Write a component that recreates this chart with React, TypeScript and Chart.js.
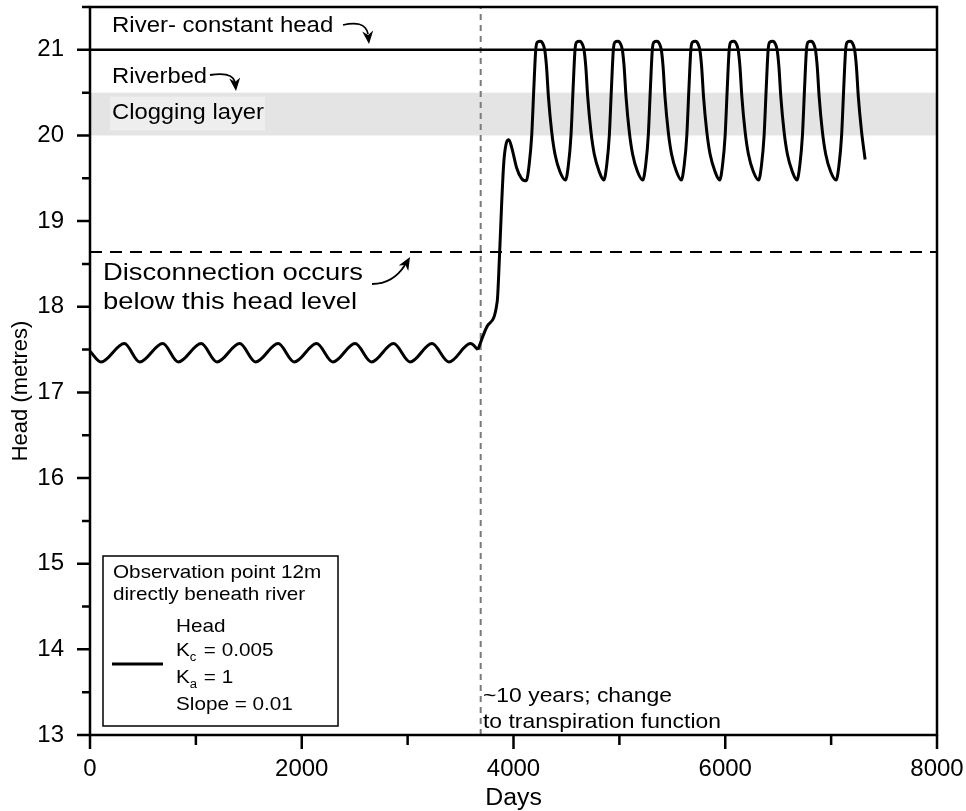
import React, { useEffect, useRef } from "react";
import { Chart, registerables } from "chart.js";
Chart.register(...registerables);

// ---------- data ----------
const DAYS_PRE = [0, 104, 324, 469, 687, 834, 1050, 1199, 1414, 1564, 1777, 1929, 2140, 2294, 2504, 2659, 2867, 3024, 3230, 3390, 3594, 3664];
const HEAD_PRE = [17.48, 17.355, 17.57, 17.355, 17.57, 17.355, 17.57, 17.355, 17.57, 17.355, 17.57, 17.355, 17.57, 17.355, 17.57, 17.355, 17.57, 17.355, 17.57, 17.355, 17.57, 17.5];

const DAYS_POST = [
  3664, 3755, 3846, 3868, 3888, 3908, 3930, 3956, 3985, 4030, 4075,
  4120, 4148, 4172, 4192, 4210, 4226, 4253, 4278, 4295, 4312, 4330, 4360, 4392, 4438,
  4491, 4519, 4543, 4563, 4581, 4597, 4624, 4649, 4666, 4683, 4701, 4731, 4763, 4809,
  4853, 4881, 4905, 4925, 4943, 4959, 4986, 5011, 5028, 5045, 5063, 5093, 5125, 5171,
  5221, 5249, 5273, 5293, 5311, 5327, 5354, 5379, 5396, 5413, 5431, 5461, 5493, 5539,
  5585, 5613, 5637, 5657, 5675, 5691, 5718, 5743, 5760, 5777, 5795, 5825, 5857, 5903,
  5947, 5975, 5999, 6019, 6037, 6053, 6080, 6105, 6122, 6139, 6157, 6187, 6219, 6265,
  6315, 6343, 6367, 6387, 6405, 6421, 6448, 6473, 6490, 6507, 6525, 6555, 6587, 6633,
  6677, 6705, 6729, 6749, 6767, 6783, 6810, 6835, 6852, 6869, 6887, 6917, 6949, 6995,
  7047, 7075, 7099, 7119, 7137, 7153, 7180, 7205, 7222, 7239, 7257, 7287, 7321,
];
const HEAD_POST = [
  17.5, 17.78, 18.06, 18.6, 19.2, 19.68, 19.9, 19.95, 19.85, 19.62, 19.5,
  19.47, 19.66, 20.0, 20.55, 21.0, 21.09, 21.1, 21.07, 21.0, 20.8, 20.45, 20.05, 19.78, 19.58,
  19.48, 19.66, 20.0, 20.55, 21.0, 21.09, 21.1, 21.07, 21.0, 20.8, 20.45, 20.05, 19.78, 19.58,
  19.48, 19.66, 20.0, 20.55, 21.0, 21.09, 21.1, 21.07, 21.0, 20.8, 20.45, 20.05, 19.78, 19.58,
  19.48, 19.66, 20.0, 20.55, 21.0, 21.09, 21.1, 21.07, 21.0, 20.8, 20.45, 20.05, 19.78, 19.58,
  19.48, 19.66, 20.0, 20.55, 21.0, 21.09, 21.1, 21.07, 21.0, 20.8, 20.45, 20.05, 19.78, 19.58,
  19.48, 19.66, 20.0, 20.55, 21.0, 21.09, 21.1, 21.07, 21.0, 20.8, 20.45, 20.05, 19.78, 19.58,
  19.48, 19.66, 20.0, 20.55, 21.0, 21.09, 21.1, 21.07, 21.0, 20.8, 20.45, 20.05, 19.78, 19.58,
  19.48, 19.66, 20.0, 20.55, 21.0, 21.09, 21.1, 21.07, 21.0, 20.8, 20.45, 20.05, 19.78, 19.58,
  19.48, 19.66, 20.0, 20.55, 21.0, 21.09, 21.1, 21.07, 21.0, 20.8, 20.45, 20.05, 19.72,
];

const RIVER_HEAD = 21;
const CLOG_BOTTOM = 20;
const CLOG_TOP = 20.5;
const DISCONNECT_HEAD = 18.64;
const CHANGE_DAY = 3690;

const X_MIN = 0;
const X_MAX = 8000;
const Y_MIN = 13;
const Y_MAX = 21.5;
const X_TICKS = [0, 2000, 4000, 6000, 8000];
const X_MINOR = [1000, 3000, 5000, 7000];
const Y_TICKS = [13, 14, 15, 16, 17, 18, 19, 20, 21];
const Y_MINOR = [13.5, 14.5, 15.5, 16.5, 17.5, 18.5, 19.5, 20.5, 21.5];

const FONT = '"Liberation Sans", Arial, Helvetica, sans-serif';

function txt(ctx: CanvasRenderingContext2D, s: string, x: number, y: number, size: number, sx = 1.08) {
  ctx.save();
  ctx.font = `${size}px ${FONT}`;
  ctx.fillStyle = "#000";
  ctx.textBaseline = "alphabetic";
  ctx.textAlign = "left";
  ctx.translate(x, y);
  ctx.scale(sx, 1);
  ctx.fillText(s, 0, 0);
  const w = ctx.measureText(s).width * sx;
  ctx.restore();
  return w;
}

function arrowHead(ctx: CanvasRenderingContext2D, tx: number, ty: number, angle: number, len = 13, half = 5.5) {
  ctx.save();
  ctx.translate(tx, ty);
  ctx.rotate(angle);
  ctx.beginPath();
  ctx.moveTo(0, 0);
  ctx.lineTo(-len, -half);
  ctx.lineTo(-len * 0.7, 0);
  ctx.lineTo(-len, half);
  ctx.closePath();
  ctx.fillStyle = "#000";
  ctx.fill();
  ctx.restore();
}

const overlay = {
  id: "overlay",
  beforeDatasetsDraw(chart: any) {
    const ctx: CanvasRenderingContext2D = chart.ctx;
    const { left, right } = chart.chartArea;
    const y = chart.scales.y;
    const yT = y.getPixelForValue(CLOG_TOP);
    const yB = y.getPixelForValue(CLOG_BOTTOM);
    ctx.save();
    ctx.fillStyle = "#e4e4e4";
    ctx.fillRect(left, yT, right - left, yB - yT);
    ctx.fillStyle = "#eeeeee";
    ctx.fillRect(110, yT + 4, 155, yB - yT - 9);
    ctx.restore();
  },
  afterDatasetsDraw(chart: any) {
    const ctx: CanvasRenderingContext2D = chart.ctx;
    const { left, right, top, bottom } = chart.chartArea;
    const xs = chart.scales.x;
    const ys = chart.scales.y;
    ctx.save();
    // frame
    ctx.strokeStyle = "#000";
    ctx.lineWidth = 2.5;
    ctx.strokeRect(left, top, right - left, bottom - top);
    // ticks
    ctx.lineWidth = 2.5;
    ctx.beginPath();
    Y_TICKS.forEach((v) => {
      const p = ys.getPixelForValue(v);
      ctx.moveTo(left, p);
      ctx.lineTo(left - 13, p);
    });
    Y_MINOR.forEach((v) => {
      const p = ys.getPixelForValue(v);
      ctx.moveTo(left, p);
      ctx.lineTo(left - 8, p);
    });
    X_TICKS.forEach((v) => {
      const p = xs.getPixelForValue(v);
      ctx.moveTo(p, bottom);
      ctx.lineTo(p, bottom + 14);
    });
    X_MINOR.forEach((v) => {
      const p = xs.getPixelForValue(v);
      ctx.moveTo(p, bottom);
      ctx.lineTo(p, bottom + 10);
    });
    ctx.stroke();

    // axis titles
    ctx.save();
    ctx.font = `22px ${FONT}`;
    ctx.fillStyle = "#000";
    ctx.textAlign = "center";
    ctx.textBaseline = "middle";
    ctx.translate(21, 391);
    ctx.rotate(-Math.PI / 2);
    ctx.fillText("Head (metres)", 0, 0);
    ctx.restore();
    ctx.save();
    ctx.font = `23px ${FONT}`;
    ctx.fillStyle = "#000";
    ctx.textAlign = "center";
    ctx.translate((left + right) / 2, 805);
    ctx.scale(1.08, 1);
    ctx.fillText("Days", 0, 0);
    ctx.restore();

    // annotations
    txt(ctx, "River- constant head", 112, 32, 22, 1.09);
    txt(ctx, "Riverbed", 112, 83, 22, 1.08);
    txt(ctx, "Clogging layer", 112, 119, 22, 1.08);
    txt(ctx, "Disconnection occurs", 103, 280, 24, 1.14);
    txt(ctx, "below this head level", 103, 309, 24, 1.14);
    txt(ctx, "~10 years; change", 483, 702, 21, 1.09);
    txt(ctx, "to transpiration function", 483, 728, 21, 1.09);

    ctx.strokeStyle = "#000";
    ctx.lineWidth = 1.8;
    // river arrow
    ctx.beginPath();
    ctx.moveTo(343, 25);
    ctx.bezierCurveTo(355, 22, 366, 23, 368, 34);
    ctx.stroke();
    arrowHead(ctx, 369, 44, Math.PI / 2 - 0.1);
    // riverbed arrow
    ctx.beginPath();
    ctx.moveTo(210, 75);
    ctx.bezierCurveTo(222, 73, 233, 74, 235, 82);
    ctx.stroke();
    arrowHead(ctx, 236, 91, Math.PI / 2 - 0.1);
    // disconnection arrow
    ctx.beginPath();
    ctx.moveTo(372, 284);
    ctx.bezierCurveTo(388, 284, 398, 276, 405, 265);
    ctx.stroke();
    arrowHead(ctx, 410, 257, -Math.PI / 3);

    // legend box
    ctx.lineWidth = 1.5;
    ctx.fillStyle = "#fff";
    ctx.fillRect(103, 556, 235, 170);
    ctx.strokeRect(103, 556, 235, 170);
    txt(ctx, "Observation point 12m", 113, 578, 19, 1.09);
    txt(ctx, "directly beneath river", 113, 600, 19, 1.09);
    txt(ctx, "Head", 176, 632, 19, 1.09);
    let w = txt(ctx, "K", 176, 656, 19, 1.09);
    txt(ctx, "c", 176 + w, 661, 12, 1.09);
    txt(ctx, "= 0.005", 176 + w + 14, 656, 19, 1.09);
    w = txt(ctx, "K", 176, 683, 19, 1.09);
    txt(ctx, "a", 176 + w, 688, 12, 1.09);
    txt(ctx, "= 1", 176 + w + 14, 683, 19, 1.09);
    txt(ctx, "Slope = 0.01", 176, 710, 19, 1.09);
    ctx.lineWidth = 3;
    ctx.beginPath();
    ctx.moveTo(112, 664);
    ctx.lineTo(163, 664);
    ctx.stroke();
    ctx.restore();
  },
};

function pts(xs: number[], ys: number[]) {
  return xs.map((x, i) => ({ x, y: ys[i] }));
}

export default function App() {
  const ref = useRef<HTMLCanvasElement | null>(null);
  useEffect(() => {
    if (!ref.current) return;
    const noPad = (s: any) => {
      s.paddingTop = 0;
      s.paddingBottom = 0;
      s.paddingLeft = 0;
      s.paddingRight = 0;
    };
    const chart = new Chart(ref.current, {
      type: "line",
      data: {
        datasets: [
          {
            data: pts(DAYS_PRE, HEAD_PRE),
            borderColor: "#000",
            borderWidth: 3,
            pointRadius: 0,
            cubicInterpolationMode: "monotone",
            fill: false,
          },
          {
            data: pts(DAYS_POST, HEAD_POST),
            borderColor: "#000",
            borderWidth: 3,
            pointRadius: 0,
            cubicInterpolationMode: "monotone",
            fill: false,
          },
          {
            data: [{ x: X_MIN, y: RIVER_HEAD }, { x: X_MAX, y: RIVER_HEAD }],
            borderColor: "#000",
            borderWidth: 2.5,
            pointRadius: 0,
          },
          {
            data: [{ x: X_MIN, y: DISCONNECT_HEAD }, { x: X_MAX, y: DISCONNECT_HEAD }],
            borderColor: "#000",
            borderWidth: 2,
            borderDash: [12, 8],
            pointRadius: 0,
          },
          {
            data: [{ x: CHANGE_DAY, y: Y_MIN }, { x: CHANGE_DAY, y: Y_MAX }],
            borderColor: "#7a7a7a",
            borderWidth: 2,
            borderDash: [6, 5],
            pointRadius: 0,
          },
        ] as any,
      },
      options: {
        animation: false,
        responsive: false,
        devicePixelRatio: 1,
        layout: { padding: { top: 7, right: 29, left: 0, bottom: 0 } },
        plugins: { legend: { display: false }, tooltip: { enabled: false } },
        scales: {
          x: {
            type: "linear",
            min: X_MIN,
            max: X_MAX,
            grid: { display: false, drawTicks: false },
            border: { display: false },
            ticks: {
              color: "#000",
              font: { size: 24, family: FONT },
              padding: 20,
              maxRotation: 0,
              callback: (v: any) => String(v),
            },
            afterBuildTicks: (s: any) => {
              s.ticks = X_TICKS.map((v) => ({ value: v }));
            },
            afterFit: (s: any) => {
              s.height = 76;
              noPad(s);
            },
          },
          y: {
            type: "linear",
            min: Y_MIN,
            max: Y_MAX,
            grid: { display: false, drawTicks: false },
            border: { display: false },
            ticks: {
              color: "#000",
              font: { size: 24, family: FONT },
              padding: 26,
              callback: (v: any) => String(v),
            },
            afterBuildTicks: (s: any) => {
              s.ticks = Y_TICKS.map((v) => ({ value: v }));
            },
            afterFit: (s: any) => {
              s.width = 90;
              noPad(s);
            },
          },
        },
      } as any,
      plugins: [overlay],
    });
    return () => chart.destroy();
  }, []);
  return (
    <div style={{ position: "fixed", left: 0, top: 0, width: 966, height: 811, background: "#fff" }}>
      <canvas ref={ref} width={966} height={811} style={{ display: "block" }} />
    </div>
  );
}
